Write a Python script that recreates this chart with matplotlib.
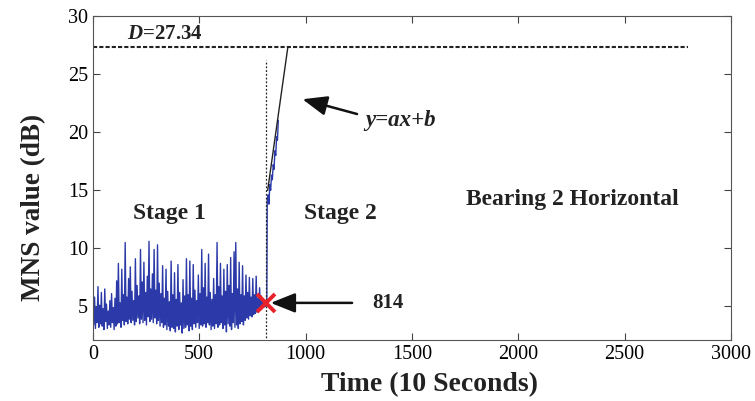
import numpy as np
import matplotlib
matplotlib.use("Agg")
import matplotlib.pyplot as plt

plt.rcParams['font.family'] = ['Liberation Serif', 'DejaVu Serif']
plt.rcParams['mathtext.fontset'] = 'custom'
plt.rcParams['mathtext.it'] = 'Liberation Serif:italic:bold'
plt.rcParams['mathtext.rm'] = 'Liberation Serif:bold'

# stage 1 MNS values, one every 4 time steps from 0 to 812
stage1_step = 4
stage1_mns = [
    5.6, 3.4, 5.8, 3.1, 4.9, 3.6, 6.7, 3.2, 5.1, 3.5,
    6.2, 3.3, 4.8, 3.0, 6.5, 3.7, 5.2, 3.1, 4.6, 3.4,
    5.5, 3.2, 6.1, 3.6, 4.9, 3.0, 5.7, 3.3, 7.2, 3.5,
    8.7, 3.6, 5.3, 3.2, 8.2, 3.8, 6.0, 3.4, 10.5, 3.7,
    5.8, 3.5, 7.4, 3.9, 8.4, 3.6, 6.3, 3.8, 5.5, 3.4,
    9.1, 3.7, 6.8, 4.0, 5.9, 3.5, 9.9, 3.9, 7.1, 3.6,
    8.8, 3.8, 6.2, 3.4, 7.6, 4.1, 10.6, 3.7, 6.5, 3.9,
    7.8, 3.6, 9.9, 4.0, 6.4, 3.5, 10.3, 3.8, 7.0, 3.3,
    6.1, 3.6, 8.5, 3.2, 5.7, 3.4, 8.2, 3.0, 6.3, 3.3,
    5.4, 2.9, 8.9, 3.2, 6.0, 3.1, 7.9, 2.8, 5.6, 3.3,
    8.6, 3.0, 6.2, 3.4, 5.3, 2.7, 7.3, 3.1, 5.9, 3.2,
    9.1, 3.4, 6.0, 2.9, 8.9, 3.3, 5.7, 3.0, 8.6, 3.5,
    6.4, 3.2, 5.5, 3.6, 7.7, 3.1, 6.1, 3.4, 9.9, 3.3,
    6.6, 3.5, 8.7, 3.2, 5.8, 3.6, 9.5, 3.4, 6.2, 3.0,
    5.6, 3.3, 7.4, 3.1, 6.0, 3.5, 10.5, 3.2, 6.7, 3.4,
    8.7, 3.6, 5.9, 3.1, 8.2, 3.4, 6.3, 2.8, 8.6, 3.5,
    6.8, 3.3, 9.2, 3.0, 6.1, 3.6, 9.7, 3.2, 10.5, 3.4,
    6.5, 3.1, 8.8, 3.5, 6.0, 3.7, 8.5, 3.4, 5.9, 3.8,
    7.7, 4.0, 6.2, 3.9, 7.5, 4.2, 5.8, 4.1, 7.4, 4.3,
    6.0, 4.4, 7.6, 4.5, 5.7, 4.6, 6.6, 4.7, 5.9, 4.8,
    5.6, 4.9, 5.4, 5.0,
]

# stage 2 (degradation) points
stage2_t = [814, 818, 820, 824, 828, 832, 836, 840, 844, 848, 852, 856, 860, 864, 868, 872]
stage2_mns = [5.26, 5.5, 14.2, 14.6, 13.8, 15.5, 15.0, 16.3, 15.9, 17.2, 16.8, 18.4, 18.0, 19.6, 19.3, 21.0]

change_point = 814
change_value = 5.26
threshold_D = 27.34
fit_t = [822, 917]
fit_mns = [15.0, 27.34]

t1 = np.arange(len(stage1_mns)) * stage1_step
t = np.concatenate([t1, stage2_t])
mns = np.concatenate([stage1_mns, stage2_mns])

fig = plt.figure(figsize=(7.55, 4.01), dpi=100)
ax = fig.add_axes([0.123, 0.152, 0.845, 0.808])

ax.plot(t, mns, color='#2b3aa8', lw=1.0)
ax.plot(fit_t, fit_mns, color='#222222', lw=1.0)
ax.plot([0, 2800], [threshold_D, threshold_D], color='#222222', lw=1.5, linestyle=(0, (2.0, 1.0)))
ax.plot([change_point, change_point], [0, 26.2], color='#222222', lw=0.9, linestyle=(0, (1.5, 1.5)))
ax.plot(change_point, change_value, 'x', color='#e8212a', ms=13, mew=2.8)

bold = dict(fontweight='bold', color='#222222')
ax.text(160, 28.0, '$D$=27.34', fontsize=15, **bold)
ax.text(1280, 21.0, 'y=ax+b', fontsize=16.5, fontstyle='italic', va='center', **bold)
ax.text(1316, 5.3, '814', fontsize=15, va='center', **bold)
ax.text(362, 13.0, 'Stage 1', fontsize=17, ha='center', va='center', **bold)
ax.text(1166, 13.0, 'Stage 2', fontsize=17, ha='center', va='center', **bold)
ax.text(2257, 14.2, 'Bearing 2 Horizontal', fontsize=17, ha='center', va='center', **bold)

arrow = dict(arrowstyle='-|>,head_length=1.5,head_width=0.6', color='#111111', lw=1.8)
ax.annotate('', xy=(973, 22.9), xytext=(1255, 21.5), arrowprops=arrow)
ax.annotate('', xy=(823, 5.3), xytext=(1232, 5.3), arrowprops=arrow)

ax.set_xlim(0, 3000)
ax.set_ylim(2.1, 30)
ax.set_xticks([0, 500, 1000, 1500, 2000, 2500, 3000])
ax.set_yticks([5, 10, 15, 20, 25, 30])
ax.tick_params(direction='in', top=True, right=True, labelsize=14.5, length=5, color='#444444')
for s in ax.spines.values():
    s.set_color('#555555')
ax.set_xlabel('Time (10 Seconds)', fontsize=20, fontweight='bold', color='#222222', labelpad=6)
ax.set_ylabel('MNS value (dB)', fontsize=19.5, fontweight='bold', color='#222222', labelpad=16)
ax.xaxis.label.set_x(0.528)
ax.yaxis.label.set_y(0.41)

plt.savefig('out.png', dpi=100)
